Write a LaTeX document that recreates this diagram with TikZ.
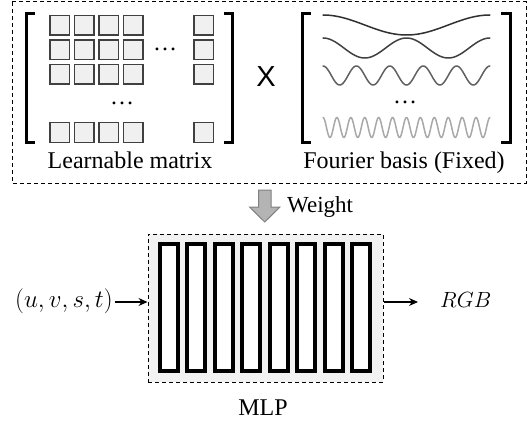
\documentclass[tikz,border=0pt]{standalone}
\usepackage{fix-cm}
\usepackage{fontspec}
\setmainfont{Liberation Serif}
\newfontfamily\xsans{Liberation Sans}
\newfontfamily\xserif{Liberation Serif}
\usetikzlibrary{arrows.meta}
\definecolor{cellfill}{HTML}{F0F0F0}
\definecolor{celledge}{HTML}{404040}
\definecolor{boxfill}{HTML}{F2F2F2}
\definecolor{waveA}{HTML}{303030}
\definecolor{waveB}{HTML}{404040}
\definecolor{waveC}{HTML}{606060}
\definecolor{waveD}{HTML}{A8A8A8}
\definecolor{wfill}{HTML}{B4B4B4}
\definecolor{wedge}{HTML}{808080}
\tikzset{
  dashbox/.style={draw=black, line width=1pt, dash pattern=on 4pt off 3pt},
  cell/.style={draw=celledge, fill=cellfill, line width=1.5pt},
  brack/.style={draw=black, line width=3pt},
  layerbar/.style={draw=black, fill=white, line width=4pt},
  lbl/.style={font=\xserif\fontsize{24}{28}\selectfont, inner sep=0pt, anchor=base},
  dotsnode/.style={font=\xserif\fontsize{24}{28}\selectfont, inner sep=0pt},
  wave/.style={line width=1.5pt, line cap=round, line join=round},
  conn/.style={line width=1.2pt, -{Stealth[length=9pt,width=8pt]}},
}
\begin{document}
\begin{tikzpicture}[x=1pt,y=-1pt]
\useasboundingbox (0,0) rectangle (528,436);
% top dashed frame
\draw[dashbox] (12,2) rectangle (526,183);
% left matrix brackets
\draw[brack] (35,14) -- (26,14) -- (26,142) -- (35,142);
\draw[brack] (224,14) -- (232,14) -- (232,142) -- (224,142);
% cells
\foreach \cx in {49,73.5,98,122.5,193}{
  \foreach \cy in {15,39.5,64,122}{
    \draw[cell] (\cx+0.75,\cy+0.75) rectangle (\cx+20.25,\cy+20.25);
  }
}
\node[dotsnode] (dA) at (165,49) {…};
\node[dotsnode] (dB) at (122,103) {…};
\node[lbl] (lm) at (130,168) {Learnable matrix};
% times sign
\node[font=\xsans\fontsize{29}{32}\selectfont, inner sep=0pt] (times) at (266,77) {X};
% right matrix brackets
\draw[brack] (311,14) -- (302,14) -- (302,142) -- (311,142);
\draw[brack] (501,14) -- (510,14) -- (510,142) -- (501,142);
% Fourier waves
\draw[wave, waveA] plot[domain=0:1, samples=80] ({323+167*\x},{25-10*cos(360*\x)});
\draw[wave, waveB] plot[domain=0:1, samples=120] ({323+167*\x},{48-10*cos(720*\x)});
\draw[wave, waveC] plot[domain=0:1, samples=200] ({323+167*\x},{75.5-9.5*cos(1800*\x)});
\draw[wave, waveD] plot[domain=0:1, samples=400] ({323+167*\x},{127.5-10*cos(4320*\x)});
\node[dotsnode] (dC) at (405,102) {…};
\node[lbl] (fb) at (404,168) {Fourier basis (Fixed)};
% weight arrow
\draw[fill=wfill, draw=wedge, line width=1pt, line join=miter]
  (258.5,190) -- (271,190) -- (271,207) -- (280,207) -- (264.75,222) -- (249.5,207) -- (258.5,207) -- cycle;
\node[lbl, anchor=base west, font=\xserif\fontsize{23}{27}\selectfont] (wt) at (287,212) {Weight};
% MLP box
\node[dashbox, fill=boxfill, minimum width=235pt, minimum height=148pt, inner sep=0pt] (mlp) at (265.5,308) {};
\foreach \i in {0,...,7}{
  \draw[layerbar] ({160+27.43*\i},244) rectangle ({178+27.43*\i},371);
}
\node[lbl] (mlpl) at (263,415) {MLP};
% input / output
\node[font=\fontsize{25}{29}\selectfont, inner sep=2pt, anchor=base east] (in) at (115,307) {$(u,v,s,t)$};
\node[font=\fontsize{22}{26}\selectfont, inner sep=2pt, anchor=base west] (out) at (438,307) {$RGB$};
\draw[conn] (in.east |- 0,302) -- (mlp.west |- 0,302);
\draw[conn, shorten >=20pt] (mlp.east |- 0,302) -- (out.west |- 0,302);
\end{tikzpicture}
\end{document}
